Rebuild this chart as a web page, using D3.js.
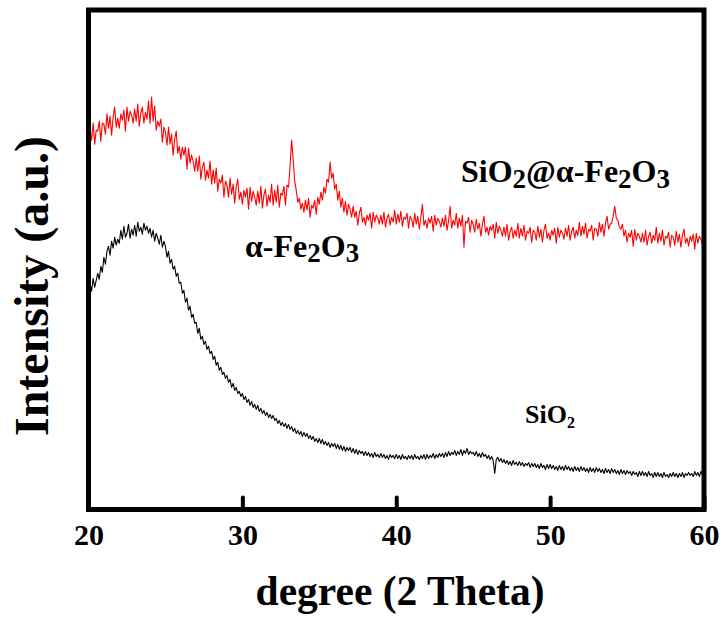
<!DOCTYPE html>
<html>
<head>
<meta charset="utf-8">
<script src="https://cdn.jsdelivr.net/npm/d3@7"></script>
<style>
  html, body { margin: 0; padding: 0; background: #fff; }
  svg { display: block; }
  text { font-family: "Liberation Serif", "Times New Roman", Times, serif; font-weight: bold; fill: #000; }
</style>
</head>
<body>
<svg id="chart" width="724" height="618"></svg>
<script>
// ---- data ----
const xTicks = [20, 30, 40, 50, 60];
const angleStart = 20;
const angleStep = 0.1;

// SiO2@α-Fe2O3 pattern (red), intensity a.u., one value per 0.1° from 20° to 60°
const compositeIntensity = [
  363, 379, 369, 386, 365, 379, 378, 388, 368, 386,
  385, 375, 395, 381, 393, 374, 392, 402, 382, 391,
  381, 395, 389, 399, 378, 402, 388, 398, 394, 386,
  400, 388, 405, 383, 396, 402, 386, 397, 390, 408,
  386, 412, 388, 403, 379, 388, 383, 390, 367, 382,
  377, 364, 382, 365, 375, 354, 370, 378, 356, 363,
  350, 362, 354, 362, 340, 361, 346, 354, 348, 338,
  351, 338, 353, 330, 342, 347, 329, 339, 331, 348,
  325, 339, 326, 341, 318, 330, 326, 334, 312, 328,
  324, 312, 331, 315, 325, 306, 322, 330, 310, 317,
  305, 319, 312, 321, 300, 322, 308, 318, 312, 304,
  318, 306, 323, 301, 314, 320, 303, 314, 307, 325,
  304, 319, 307, 324, 302, 316, 314, 323, 304, 324,
  322, 343, 369, 350, 328, 319, 307, 311, 300, 306,
  297, 309, 299, 311, 292, 304, 301, 309, 295, 312,
  305, 317, 309, 322, 316, 330, 327, 347, 331, 336,
  320, 325, 309, 318, 302, 311, 297, 308, 294, 305,
  300, 292, 303, 292, 298, 284, 296, 302, 287, 292,
  284, 294, 289, 296, 281, 297, 287, 294, 291, 285,
  294, 285, 297, 282, 291, 295, 284, 292, 287, 299,
  285, 295, 287, 298, 283, 292, 290, 296, 281, 293,
  290, 282, 296, 285, 293, 280, 292, 305, 284, 289,
  281, 291, 286, 293, 278, 294, 284, 291, 288, 282,
  291, 283, 294, 279, 288, 303, 281, 289, 284, 296,
  281, 291, 283, 294, 262, 288, 286, 292, 277, 289,
  285, 277, 290, 280, 286, 273, 285, 293, 277, 282,
  274, 283, 279, 285, 271, 287, 276, 283, 279, 273,
  282, 273, 285, 269, 278, 282, 271, 279, 273, 286,
  271, 281, 273, 284, 269, 278, 276, 282, 267, 279,
  277, 269, 283, 272, 280, 267, 279, 285, 271, 276,
  269, 279, 274, 281, 266, 282, 272, 279, 276, 270,
  281, 273, 284, 269, 278, 282, 271, 279, 274, 287,
  273, 283, 275, 286, 271, 280, 278, 284, 269, 281,
  280, 273, 287, 277, 285, 273, 286, 293, 280, 285,
  286, 293, 303, 291, 289, 282, 280, 285, 273, 279,
  267, 276, 272, 279, 263, 280, 269, 276, 273, 267,
  276, 267, 279, 264, 273, 277, 266, 274, 269, 282,
  266, 276, 268, 279, 264, 273, 271, 277, 262, 274,
  272, 264, 278, 267, 275, 262, 274, 280, 266, 271,
  263, 273, 268, 275, 260, 276, 266, 273, 270, 264,
  268
];

// SiO2 pattern (black), intensity a.u., one value per 0.1° from 20° to 60°
const silicaIntensity = [
  214, 226, 218, 231, 222, 229, 236, 230, 243, 237,
  252, 245, 258, 263, 254, 268, 261, 272, 264, 270,
  266, 279, 270, 283, 272, 276, 285, 271, 280, 274,
  284, 273, 287, 278, 282, 275, 286, 279, 283, 276,
  281, 272, 279, 268, 276, 271, 265, 274, 262, 268,
  263, 252, 258, 246, 250, 240, 243, 233, 236, 226,
  227, 216, 219, 207, 211, 199, 203, 192, 195, 186,
  187, 176, 181, 170, 173, 165, 168, 160, 163, 156,
  158, 150, 153, 144, 147, 139, 142, 135, 137, 131,
  134, 127, 130, 122, 126, 119, 122, 116, 118, 113,
  116, 110, 113, 107, 110, 104, 108, 102, 105, 100,
  104, 98, 101, 96, 99, 94, 97, 92, 95, 91,
  94, 89, 91, 86, 89, 84, 87, 83, 86, 81,
  85, 80, 83, 78, 81, 76, 79, 75, 78, 73,
  77, 73, 76, 71, 74, 70, 73, 68, 71, 67,
  71, 66, 70, 65, 68, 64, 67, 62, 66, 63,
  66, 61, 65, 60, 64, 59, 63, 58, 62, 59,
  62, 57, 61, 56, 60, 55, 59, 56, 58, 54,
  58, 54, 57, 53, 56, 52, 57, 53, 55, 52,
  56, 52, 55, 51, 54, 50, 55, 52, 54, 51,
  55, 51, 54, 50, 55, 51, 53, 50, 54, 51,
  54, 50, 55, 51, 53, 50, 54, 51, 55, 50,
  55, 51, 54, 52, 56, 51, 55, 52, 56, 53,
  56, 52, 57, 53, 58, 54, 57, 55, 59, 54,
  58, 55, 60, 54, 59, 56, 61, 55, 58, 56,
  57, 54, 58, 53, 56, 52, 57, 53, 55, 51,
  54, 50, 53, 49, 36, 50, 52, 48, 51, 47,
  50, 46, 49, 45, 48, 44, 49, 45, 47, 44,
  48, 44, 47, 43, 46, 44, 47, 42, 46, 43,
  46, 42, 45, 41, 46, 42, 44, 40, 45, 41,
  45, 41, 44, 40, 43, 39, 44, 40, 43, 39,
  44, 40, 43, 39, 42, 38, 43, 39, 42, 38,
  43, 39, 42, 38, 41, 37, 42, 38, 41, 37,
  42, 38, 41, 37, 40, 36, 41, 37, 40, 36,
  41, 37, 40, 36, 39, 35, 40, 36, 39, 35,
  39, 36, 38, 34, 38, 35, 37, 33, 38, 34,
  38, 34, 37, 33, 38, 34, 36, 32, 37, 33,
  37, 33, 36, 32, 37, 33, 35, 32, 36, 33,
  37, 33, 36, 32, 36, 33, 37, 32, 36, 34,
  37, 34, 36, 33, 38, 34, 37, 33, 38, 35,
  37
];

// ---- chart ----
const svg = d3.select("#chart");
const plot = { left: 88.5, right: 704, top: 10, bottom: 509.5 };

const x = d3.scaleLinear().domain([20, 60]).range([plot.left, plot.right]);
const y = d3.scaleLinear().domain([0, 499]).range([plot.bottom, plot.top]);

const toPoints = arr => arr.map((v, i) => [angleStart + i * angleStep, v]);
const line = d3.line().x(d => x(d[0])).y(d => y(d[1]));

svg.append("path")
  .datum(toPoints(silicaIntensity))
  .attr("d", line)
  .attr("fill", "none")
  .attr("stroke", "#000")
  .attr("stroke-width", 1.1)
  .attr("stroke-linejoin", "round");

svg.append("path")
  .datum(toPoints(compositeIntensity))
  .attr("d", line)
  .attr("fill", "none")
  .attr("stroke", "#ff0000")
  .attr("stroke-width", 1.1)
  .attr("stroke-linejoin", "round");

// frame
svg.append("rect")
  .attr("x", plot.left).attr("y", plot.top)
  .attr("width", plot.right - plot.left)
  .attr("height", plot.bottom - plot.top)
  .attr("fill", "none")
  .attr("stroke", "#000")
  .attr("stroke-width", 5);

// bottom axis with inward ticks
const xAxis = d3.axisBottom(x)
  .tickValues(xTicks)
  .tickSizeInner(-12)
  .tickSizeOuter(0)
  .tickPadding(14)
  .tickFormat(d3.format("d"));

const gx = svg.append("g")
  .attr("transform", `translate(0,${plot.bottom})`)
  .call(xAxis);
gx.select(".domain").remove();
gx.selectAll(".tick line")
  .attr("stroke", "#000")
  .attr("stroke-width", 4)
  .attr("stroke-linecap", "round");
gx.selectAll(".tick text")
  .attr("font-family", "'Liberation Serif', 'Times New Roman', Times, serif")
  .attr("font-weight", "bold")
  .attr("font-size", 30)
  .attr("fill", "#000");

// axis titles
svg.append("text")
  .attr("x", 400).attr("y", 605)
  .attr("text-anchor", "middle")
  .attr("font-size", 41.5)
  .text("degree (2 Theta)");

svg.append("text")
  .attr("transform", "translate(48,286) rotate(-90)")
  .attr("text-anchor", "middle")
  .attr("font-size", 48)
  .text("Intensity (a.u.)");

// annotations with subscripts
function chem(xp, yp, parts, size, subSize, shift) {
  const t = svg.append("text").attr("x", xp).attr("y", yp).attr("font-size", size);
  parts.forEach(p => {
    const ts = t.append("tspan").text(p.t);
    if (p.sub) {
      ts.attr("font-size", subSize).attr("dy", shift);
    } else if (p.after) {
      ts.attr("dy", -shift);
    }
  });
  return t;
}

chem(461, 182, [
  { t: "SiO" }, { t: "2", sub: true }, { t: "@α-Fe", after: true },
  { t: "2", sub: true }, { t: "O", after: true }, { t: "3", sub: true }
], 32, 27, 6);

chem(245, 257, [
  { t: "α-Fe" }, { t: "2", sub: true }, { t: "O", after: true }, { t: "3", sub: true }
], 32, 27, 5);

chem(525, 423, [
  { t: "SiO" }, { t: "2", sub: true }
], 26, 16, 5);
</script>
</body>
</html>
